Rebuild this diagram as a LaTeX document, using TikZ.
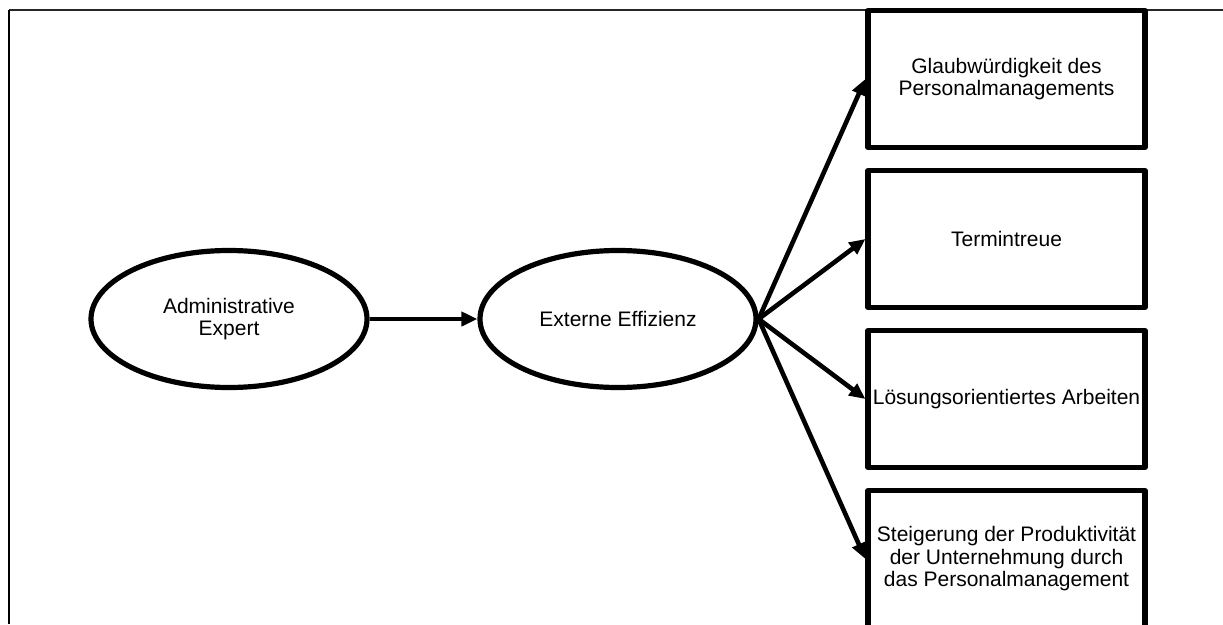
\documentclass[tikz,border=0pt]{standalone}
\usepackage{fontspec}
\setmainfont{Liberation Sans}
\usetikzlibrary{shapes.geometric,arrows.meta}

\tikzset{
  every node/.style={font=\fontsize{21}{22.5}\selectfont, align=center, text=black},
  bubble/.style={ellipse, draw, line width=5.2pt, minimum width=276pt, minimum height=137pt, inner sep=0pt},
  itembox/.style={rectangle, draw, line width=5.2pt, line join=round, minimum width=277pt, minimum height=137pt, inner sep=0pt},
  link/.style={line width=4.6pt, -{Triangle[length=16pt,width=14pt]}},
}

\begin{document}
\begin{tikzpicture}[x=1pt, y=-1pt]
  \useasboundingbox (0,0) rectangle (1223,624);
  \begin{scope}
    \clip (0,0) rectangle (1223,624);

    % frame: top rule and left rule
    \draw[line width=1.6pt, black!85] (9,10) -- (1223,10);
    \draw[line width=2.8pt] (9,9.5) -- (9,624);

    % ellipses
    \node[bubble] (ae) at (229,319) {Administrative\\Expert};
    \node[bubble] (ee) at (618,319) {Externe Effizienz};

    % outcome boxes
    \node[itembox, fill=white] (b1) at (1006.5,79)  {Glaubwürdigkeit des\\Personalmanagements};
    \node[itembox] (b2) at (1006.5,239) {Termintreue};
    \node[itembox] (b3) at (1006.5,399) {Lösungsorientiertes Arbeiten};
    \node[itembox] (b4) at (1006.5,559) {Steigerung der Produktivität\\der Unternehmung durch\\das Personalmanagement};

    % connectors
    \draw[link] (ae.east) -- (ee.west);
    \draw[link] (ee.east) -- (b1.west);
    \draw[link] (ee.east) -- (b2.west);
    \draw[link] (ee.east) -- (b3.west);
    \draw[link] (ee.east) -- (b4.west);
  \end{scope}
\end{tikzpicture}
\end{document}
